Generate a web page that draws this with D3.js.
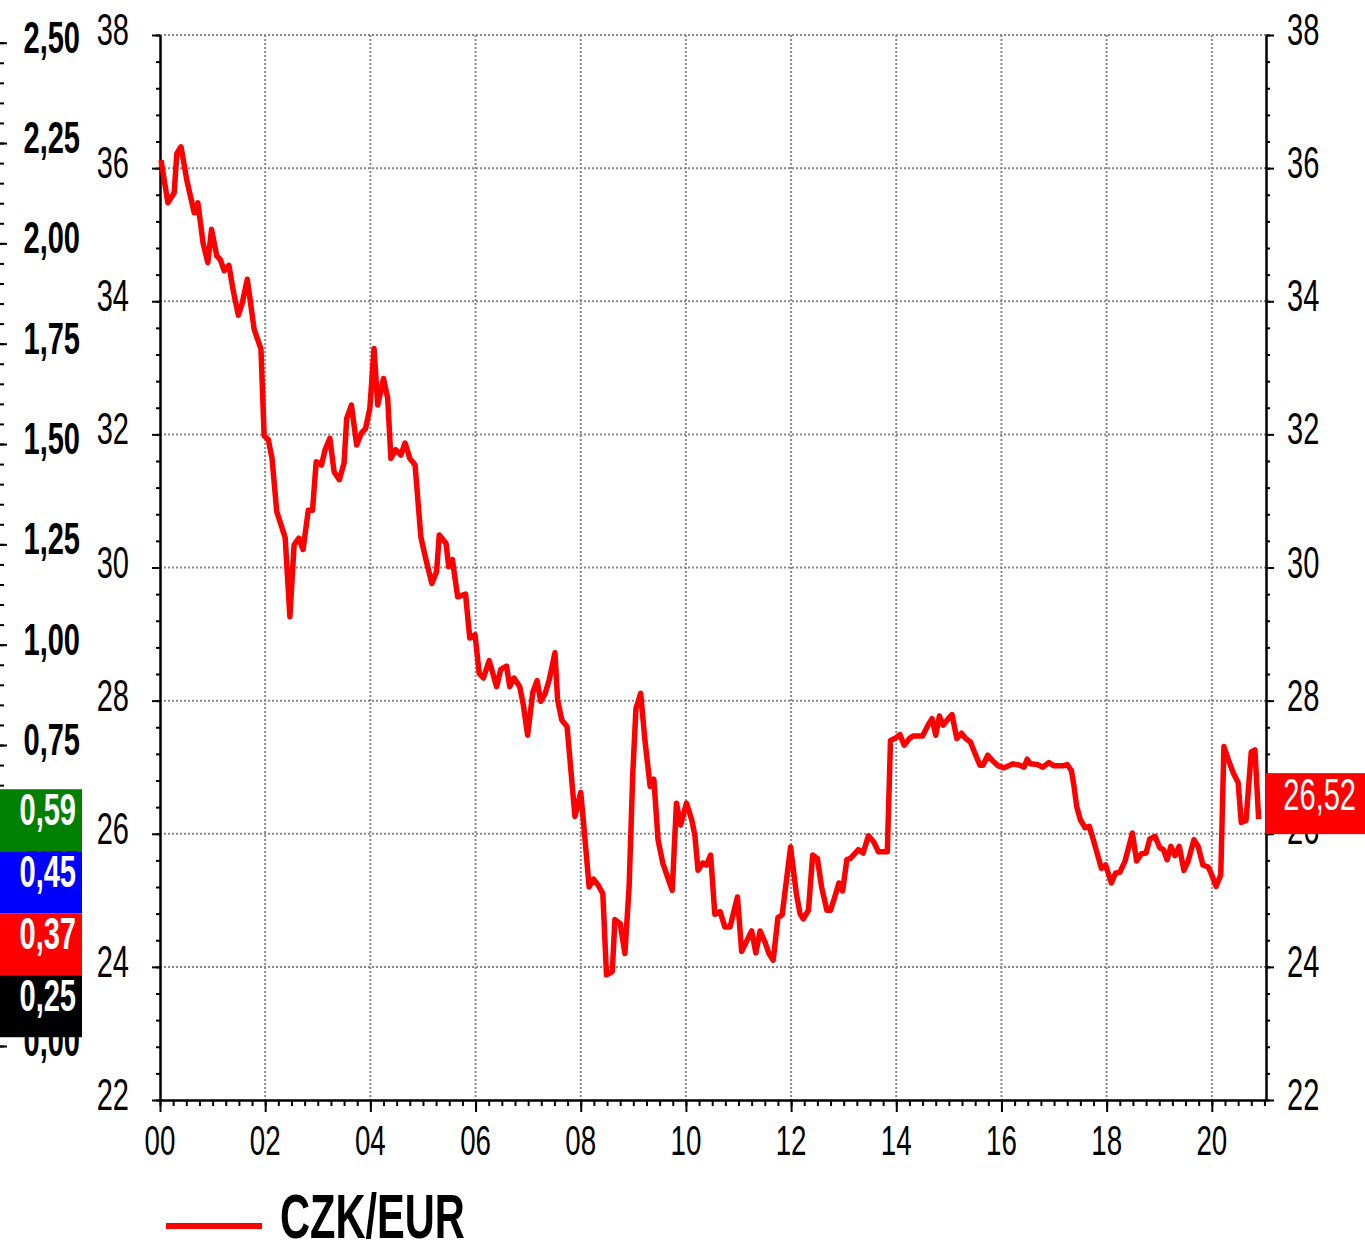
<!DOCTYPE html>
<html>
<head>
<meta charset="utf-8">
<script src="https://cdn.jsdelivr.net/npm/d3@7"></script>
<style>
  body { margin: 0; background: #fff; }
  svg text { font-family: "Liberation Sans", Arial, sans-serif; }
</style>
</head>
<body>
<svg width="1365" height="1241"></svg>
<script>
// data (years since 2000, CZK per EUR)
const czkEur = [
  [0.02,36.12],[0.15,35.48],[0.27,35.63],[0.32,36.22],[0.40,36.32],[0.51,35.82],[0.65,35.33],[0.72,35.48],
  [0.82,34.87],[0.91,34.58],[0.98,35.08],[1.08,34.68],[1.15,34.62],[1.22,34.46],[1.31,34.54],[1.39,34.17],
  [1.49,33.79],[1.56,33.96],[1.66,34.33],[1.79,33.58],[1.92,33.28],[1.98,31.98],[2.06,31.92],[2.13,31.64],
  [2.22,30.84],[2.38,30.45],[2.47,29.26],[2.55,30.34],[2.64,30.44],[2.72,30.27],[2.82,30.86],[2.90,30.86],
  [2.97,31.59],[3.07,31.54],[3.14,31.77],[3.23,31.94],[3.31,31.44],[3.41,31.32],[3.50,31.57],[3.55,32.24],
  [3.64,32.44],[3.74,31.84],[3.83,32.02],[3.91,32.09],[3.99,32.39],[4.07,33.29],[4.14,32.44],[4.25,32.84],
  [4.33,32.54],[4.39,31.64],[4.48,31.77],[4.58,31.69],[4.66,31.87],[4.75,31.64],[4.85,31.54],[4.96,30.46],
  [5.05,30.14],[5.17,29.76],[5.26,29.94],[5.31,30.49],[5.44,30.36],[5.49,30.01],[5.56,30.12],[5.66,29.56],
  [5.81,29.60],[5.89,28.94],[5.99,28.99],[6.07,28.41],[6.15,28.34],[6.26,28.60],[6.40,28.21],[6.48,28.47],
  [6.59,28.52],[6.65,28.21],[6.73,28.34],[6.84,28.21],[6.91,27.93],[6.99,27.48],[7.09,28.13],[7.17,28.30],
  [7.24,27.99],[7.32,28.10],[7.40,28.31],[7.51,28.72],[7.56,28.01],[7.64,27.71],[7.74,27.61],[7.89,26.26],
  [8.00,26.62],[8.06,26.11],[8.16,25.20],[8.24,25.32],[8.33,25.23],[8.42,25.10],[8.49,23.88],[8.60,23.93],
  [8.65,24.71],[8.75,24.65],[8.84,24.20],[8.92,25.20],[8.99,26.91],[9.05,27.88],[9.14,28.11],[9.22,27.41],
  [9.32,26.71],[9.39,26.82],[9.47,25.91],[9.56,25.56],[9.66,25.33],[9.74,25.15],[9.82,26.46],[9.90,26.13],
  [10.01,26.46],[10.11,26.21],[10.17,25.98],[10.23,25.45],[10.32,25.56],[10.39,25.53],[10.47,25.68],[10.55,24.79],
  [10.65,24.83],[10.74,24.60],[10.84,24.60],[10.98,25.05],[11.06,24.23],[11.15,24.38],[11.25,24.54],[11.33,24.21],
  [11.41,24.54],[11.50,24.38],[11.58,24.20],[11.66,24.10],[11.75,24.74],[11.83,24.78],[11.99,25.80],[12.10,25.10],
  [12.17,24.80],[12.23,24.72],[12.33,24.85],[12.41,25.68],[12.50,25.63],[12.58,25.20],[12.68,24.85],[12.75,24.85],
  [12.83,25.05],[12.91,25.26],[12.98,25.14],[13.06,25.61],[13.13,25.63],[13.28,25.76],[13.37,25.71],[13.47,25.97],
  [13.57,25.88],[13.66,25.73],[13.83,25.73],[13.89,27.40],[13.97,27.43],[14.07,27.49],[14.15,27.33],[14.25,27.43],
  [14.32,27.47],[14.50,27.47],[14.61,27.64],[14.68,27.73],[14.75,27.48],[14.82,27.77],[14.89,27.63],[14.99,27.73],
  [15.06,27.79],[15.15,27.43],[15.24,27.51],[15.32,27.43],[15.41,27.38],[15.49,27.22],[15.59,27.03],[15.65,27.03],
  [15.74,27.18],[15.84,27.09],[15.94,27.02],[16.05,26.99],[16.22,27.05],[16.35,27.03],[16.43,27.00],[16.49,27.12],
  [16.55,27.05],[16.68,27.04],[16.79,27.00],[16.90,27.07],[17.00,27.02],[17.17,27.02],[17.25,27.04],[17.33,26.95],
  [17.38,26.71],[17.43,26.41],[17.50,26.21],[17.59,26.09],[17.67,26.11],[17.74,25.93],[17.90,25.48],[17.98,25.53],
  [18.09,25.26],[18.17,25.41],[18.25,25.42],[18.35,25.59],[18.49,26.01],[18.57,25.59],[18.66,25.70],[18.75,25.71],
  [18.82,25.92],[18.92,25.96],[19.01,25.79],[19.08,25.76],[19.15,25.61],[19.22,25.81],[19.30,25.67],[19.38,25.81],
  [19.47,25.45],[19.55,25.59],[19.66,25.91],[19.74,25.81],[19.83,25.53],[19.93,25.50],[19.99,25.40],[20.08,25.21],
  [20.17,25.38],[20.23,27.31],[20.31,27.12],[20.41,26.91],[20.50,26.77],[20.56,26.17],[20.65,26.20],[20.75,27.23],
  [20.82,27.26],[20.89,26.22]
];
const seriesName = 'CZK/EUR';
const lastValue  = 26.52;

const xTicks = [0, 2, 4, 6, 8, 10, 12, 14, 16, 18, 20];
const yTicks = [22, 24, 26, 28, 30, 32, 34, 36, 38];
const sideTicks = [0, 0.25, 0.5, 0.75, 1, 1.25, 1.5, 1.75, 2, 2.25, 2.5];

// values of the other series, shown only as boxes on the side axis
const sideValues = [0.59, 0.45, 0.37, 0.25];
const sideColors = ['#008000', '#0000ff', '#ff0000', '#000000'];

const SX = 0.66;   // condense text horizontally

const svg = d3.select('svg');
const fmt = d3.formatLocale({ decimal: ',', thousands: ' ', grouping: [3], currency: ['', ''] }).format('.2f');

const x = d3.scaleLinear().domain([0, 21.03]).range([160, 1266]);
const y = d3.scaleLinear().domain([22, 38]).range([1100, 35]);
const side = d3.scaleLinear().domain([0, 2.5]).range([1046, 42.7]);

function label (sel, px, py, s, o) {
  return sel.append('text')
    .attr('transform', `translate(${px},${py}) scale(${SX},1)`)
    .attr('text-anchor', o.anchor || 'start')
    .attr('font-size', o.size)
    .attr('font-weight', o.bold ? 'bold' : 'normal')
    .attr('fill', o.fill || '#000')
    .text(s);
}

// grid
const grid = svg.append('g').attr('stroke', '#888').attr('stroke-width', 2).attr('stroke-dasharray', '2,2');
grid.selectAll('.gx').data(xTicks.slice(1)).enter().append('line')
  .attr('x1', d => x(d)).attr('x2', d => x(d)).attr('y1', y(38)).attr('y2', y(22));
grid.selectAll('.gy').data(yTicks.slice(1)).enter().append('line')
  .attr('x1', x(0)).attr('x2', x.range()[1]).attr('y1', d => y(d)).attr('y2', d => y(d));

// axes
function axis (g, a) {
  g.call(a).call(s => s.selectAll('text').remove());
  g.selectAll('line, path').attr('stroke', '#000').attr('stroke-width', 2);
  return g;
}

axis(svg.append('g').attr('transform', 'translate(160,0)'),
  d3.axisLeft(y).tickValues(d3.range(22, 38.01, 0.4)).tickSize(4).tickSizeOuter(0));
axis(svg.append('g').attr('transform', 'translate(160,0)'),
  d3.axisLeft(y).tickValues(yTicks).tickSize(8).tickSizeOuter(0));

axis(svg.append('g').attr('transform', 'translate(1266,0)'),
  d3.axisRight(y).tickValues(d3.range(22, 38.01, 0.4)).tickSize(4).tickSizeOuter(0));
axis(svg.append('g').attr('transform', 'translate(1266,0)'),
  d3.axisRight(y).tickValues(yTicks).tickSize(8).tickSizeOuter(0));

axis(svg.append('g').attr('transform', 'translate(0,1100)'),
  d3.axisBottom(x).tickValues(d3.range(0, 21.01, 0.25)).tickSize(6).tickSizeOuter(0));
axis(svg.append('g').attr('transform', 'translate(0,1100)'),
  d3.axisBottom(x).tickValues(xTicks).tickSize(12).tickSizeOuter(0));

const sideAxis = axis(svg.append('g').attr('transform', 'translate(0,0)'),
  d3.axisRight(side).tickValues(d3.range(0, 2.501, 0.05)).tickSize(4).tickSizeOuter(0));
sideAxis.select('.domain').remove();
const sideMajor = axis(svg.append('g').attr('transform', 'translate(0,0)'),
  d3.axisRight(side).tickValues(sideTicks).tickSize(7).tickSizeOuter(0));
sideMajor.select('.domain').remove();

// tick labels
const labels = svg.append('g');
yTicks.forEach(v => {
  label(labels, 129, y(v) + 10, v, { anchor: 'end', size: 44 });
  label(labels, 1287, y(v) + 10, v, { anchor: 'start', size: 44 });
});
xTicks.forEach(v => {
  label(labels, x(v), 1155, d3.format('02d')(v), { anchor: 'middle', size: 42 });
});
sideTicks.forEach(v => {
  label(labels, 80, side(v) + 10, fmt(v), { anchor: 'end', size: 44, bold: true });
});

// series line
svg.append('path')
  .datum(czkEur)
  .attr('fill', 'none')
  .attr('stroke', '#ff0000')
  .attr('stroke-width', 5.5)
  .attr('stroke-linejoin', 'round')
  .attr('d', d3.line().x(d => x(d[0])).y(d => y(d[1])));

// value boxes on the side axis, stacked so they don't overlap
const boxH = 62;
let prevBottom = -Infinity;
sideValues.forEach((v, i) => {
  let top = Math.max(side(v) - 20, prevBottom);
  prevBottom = top + boxH;
  svg.append('rect').attr('x', 0).attr('y', top).attr('width', 82).attr('height', boxH)
    .attr('fill', sideColors[i]);
  label(svg, 76, top + 36, fmt(v), { anchor: 'end', size: 44, bold: true, fill: '#fff' });
});

// last value box on the right axis
const lastTop = y(lastValue) - 26;
svg.append('rect').attr('x', 1266).attr('y', lastTop).attr('width', 99).attr('height', 61)
  .attr('fill', '#ff0000');
label(svg, 1356, lastTop + 37, fmt(lastValue), { anchor: 'end', size: 44, fill: '#fff' });

// legend
svg.append('line')
  .attr('x1', 166).attr('x2', 262).attr('y1', 1226).attr('y2', 1226)
  .attr('stroke', '#ff0000').attr('stroke-width', 6);
label(svg, 280, 1238, seriesName, { anchor: 'start', size: 63, bold: true });
</script>
</body>
</html>
